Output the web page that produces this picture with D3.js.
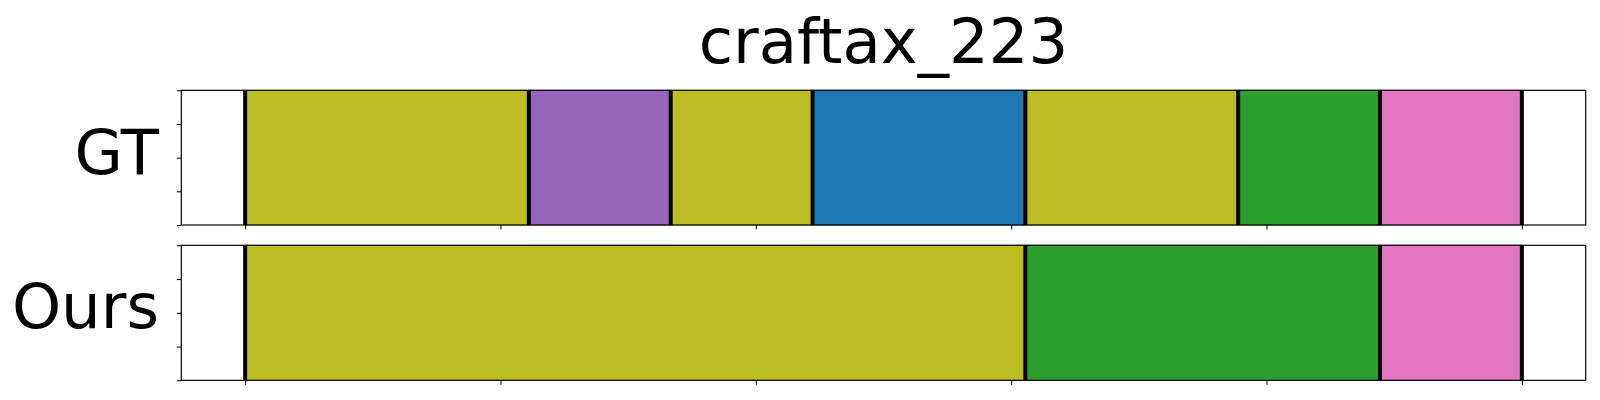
<!DOCTYPE html>
<html>
<head>
<meta charset="utf-8">
<script src="https://cdn.jsdelivr.net/npm/d3@7"></script>
<style>
  html, body { margin: 0; padding: 0; background: #fff; }
  svg { display: block; }
  text { font-family: "DejaVu Sans", sans-serif; }
</style>
</head>
<body>
<svg id="chart" width="1600" height="400"></svg>
<script>
// ---- data ----
const title = "craftax_223";
const rowLabels = ["GT", "Ours"];
// segment boundaries (normalized time) and segment classes per row
const gtBounds = [0, 8/36, 12/36, 16/36, 22/36, 28/36, 32/36, 1];
const gtClasses = ["olive", "purple", "olive", "blue", "olive", "green", "pink"];
const oursBounds = [0, 22/36, 32/36, 1];
const oursClasses = ["olive", "green", "pink"];
const xTicks = [0, 0.2, 0.4, 0.6, 0.8, 1.0];
const yTicks = [0, 0.25, 0.5, 0.75, 1.0];
const classNames = ["blue", "green", "purple", "pink", "olive"];
const classColors = ["#1f77b4", "#2ca02c", "#9467bd", "#e377c2", "#bcbd22"];

// ---- layout ----
const svg = d3.select("#chart");
const left = 181.3, right = 1585.7;
const panels = [
  { top: 90.3, bottom: 225.0, bounds: gtBounds, classes: gtClasses, label: rowLabels[0], baseline: 174.3 },
  { top: 245.3, bottom: 380.3, bounds: oursBounds, classes: oursClasses, label: rowLabels[1], baseline: 328.3 }
];
const color = d3.scaleOrdinal().domain(classNames).range(classColors);
const x = d3.scaleLinear().domain([-0.05, 1.05]).range([left, right]);
const fontSize = 62.5;

svg.append("text")
  .attr("x", (left + right) / 2)
  .attr("y", 63.3)
  .attr("text-anchor", "middle")
  .attr("font-size", fontSize)
  .attr("fill", "#000")
  .text(title);

panels.forEach(p => {
  const y = d3.scaleLinear().domain([0, 1]).range([p.bottom, p.top]);
  const g = svg.append("g");
  const segs = p.classes.map((c, i) => ({ c, s: p.bounds[i], e: p.bounds[i + 1] }));

  g.selectAll("rect.seg").data(segs).enter().append("rect")
    .attr("class", "seg")
    .attr("x", d => x(d.s))
    .attr("width", d => x(d.e) - x(d.s))
    .attr("y", y(1))
    .attr("height", y(0) - y(1))
    .attr("fill", d => color(d.c))
    .attr("stroke", d => d3.color(color(d.c)).darker(0.4))
    .attr("stroke-width", 1);

  g.selectAll("line.bd").data(p.bounds).enter().append("line")
    .attr("class", "bd")
    .attr("x1", d => x(d)).attr("x2", d => x(d))
    .attr("y1", y(1)).attr("y2", y(0))
    .attr("stroke", "#000")
    .attr("stroke-width", 4);

  // axes
  const xAxis = d3.axisBottom(x).tickValues(xTicks).tickSize(4.5).tickFormat("");
  const gx = g.append("g").attr("transform", `translate(0,${p.bottom})`).call(xAxis);
  gx.select(".domain").remove();
  gx.selectAll("line").attr("stroke", "#000").attr("stroke-width", 1);

  const yAxis = d3.axisLeft(y).tickValues(yTicks).tickSize(4.5).tickFormat("");
  const gy = g.append("g").attr("transform", `translate(${left},0)`).call(yAxis);
  gy.select(".domain").remove();
  gy.selectAll("line").attr("stroke", "#000").attr("stroke-width", 1);

  g.append("rect")
    .attr("x", left).attr("y", p.top)
    .attr("width", right - left).attr("height", p.bottom - p.top)
    .attr("fill", "none").attr("stroke", "#000").attr("stroke-width", 1.2);

  g.append("text")
    .attr("x", 159)
    .attr("y", p.baseline)
    .attr("text-anchor", "end")
    .attr("font-size", fontSize)
    .attr("fill", "#000")
    .text(p.label);
});
</script>
</body>
</html>
